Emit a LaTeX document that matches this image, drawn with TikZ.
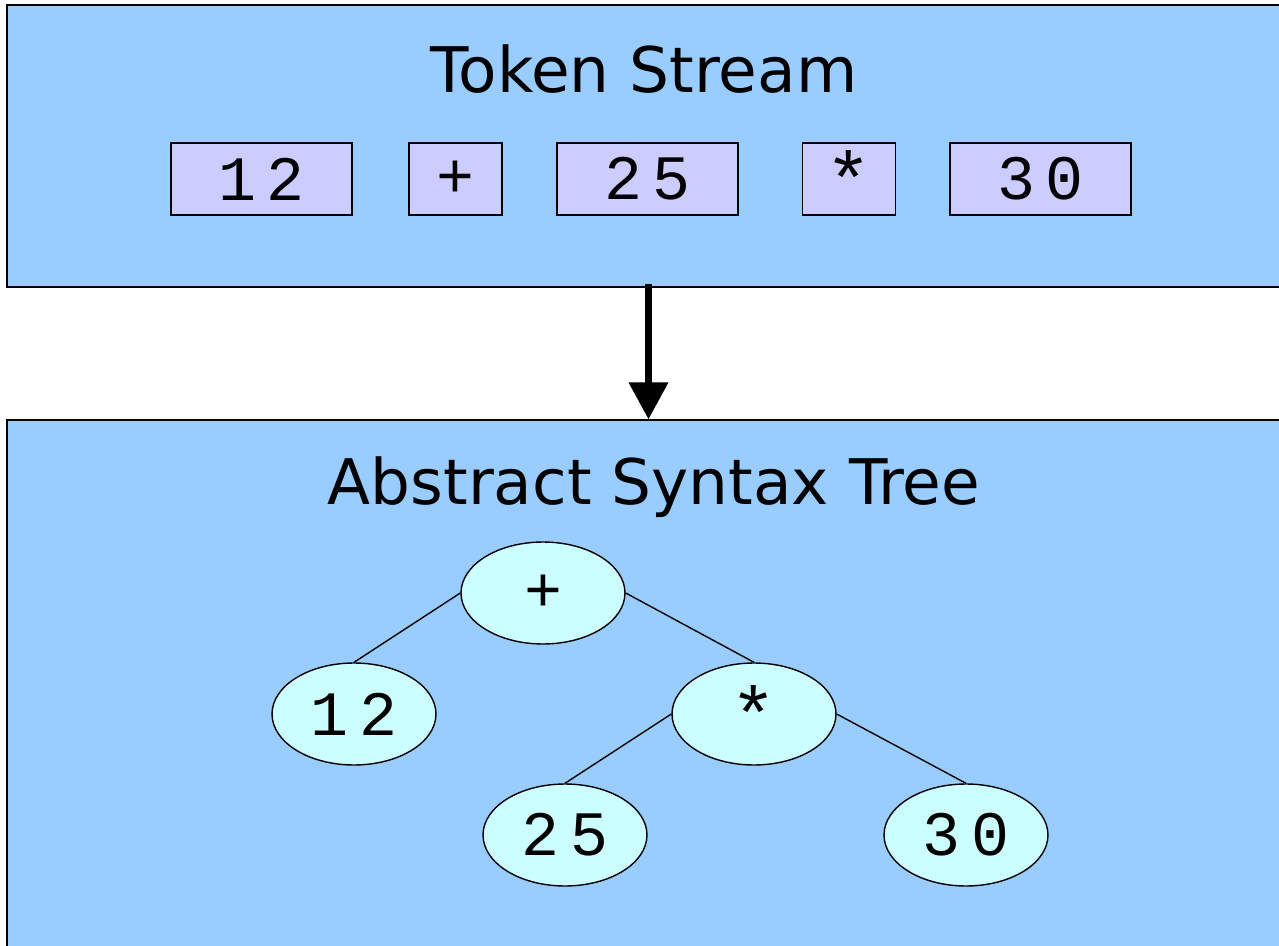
\documentclass[tikz,border=0pt]{standalone}
\usepackage{fontspec}
\setmainfont{DejaVu Sans}
\setmonofont{Liberation Mono}
\usetikzlibrary{shapes.geometric,arrows.meta}
\definecolor{panelblue}{HTML}{99CCFF}
\definecolor{tokenfill}{HTML}{CCCCFF}
\definecolor{nodefill}{HTML}{CCFFFF}
\newcommand{\timesop}{\raisebox{-0.22em}{\fontsize{44}{44}\selectfont *}}
\tikzset{
  panel/.style={draw, fill=panelblue, line width=0.8pt, inner sep=0pt},
  title/.style={font=\fontsize{35.8}{42}\selectfont},
  token/.style={draw, fill=tokenfill, line width=0.8pt, minimum height=1.44cm,
    inner sep=0pt, font=\ttfamily\fontsize{36}{44}\selectfont},
  treenode/.style={draw, ellipse, fill=nodefill, line width=0.8pt,
    minimum width=3.28cm, minimum height=2.04cm, inner sep=0pt,
    font=\ttfamily\fontsize{36}{44}\selectfont},
  branch/.style={line width=0.8pt}
}
\begin{document}
\begin{tikzpicture}[x=0.02cm, y=-0.02cm]
        \useasboundingbox (0, 0) rectangle (1279, 946);
        \clip (0, 0) rectangle (1279, 946);

        % Draw the two panels
        \node[panel, minimum width=25.66cm, minimum height=5.64cm] (stream) at (648.5, 146) {};
        \node[panel, minimum width=25.66cm, minimum height=10.8cm] (ast) at (648.5, 690) {};
        \node[title] (streamtitle) at (644, 69) {Token Stream};
        \node[title] (asttitle) at (654, 487) {Abstract Syntax Tree};

        % Draw the tokens
        \node[token, minimum width=3.62cm] (t12) at (261.5, 179) {1\,2};
        \node[token, minimum width=1.86cm] (tplus) at (455.5, 179) {+};
        \node[token, minimum width=3.62cm] (t25) at (647.5, 179) {2\,5};
        \node[token, minimum width=1.86cm] (tstar) at (849, 179) {\timesop};
        \node[token, minimum width=3.62cm] (t30) at (1040.5, 179) {3\,0};

        % Draw the arrow from the stream to the tree
        \draw[line width=4pt, -{Triangle[width=21.6pt, length=21pt]}]
          ([yshift=0.08cm]stream.south) -- (ast.north);

        % Draw the tree
        \node[treenode] (plus) at (543, 593) {+};
        \node[treenode] (n12) at (354, 714) {1\,2};
        \node[treenode] (star) at (754, 714) {\timesop};
        \node[treenode] (n25) at (565, 835) {2\,5};
        \node[treenode] (n30) at (966, 835) {3\,0};
        \draw[branch] (plus.west) -- (n12.north);
        \draw[branch] (plus.east) -- (star.north);
        \draw[branch] (star.west) -- (n25.north);
        \draw[branch] (star.east) -- (n30.north);
    \end{tikzpicture}
\end{document}
